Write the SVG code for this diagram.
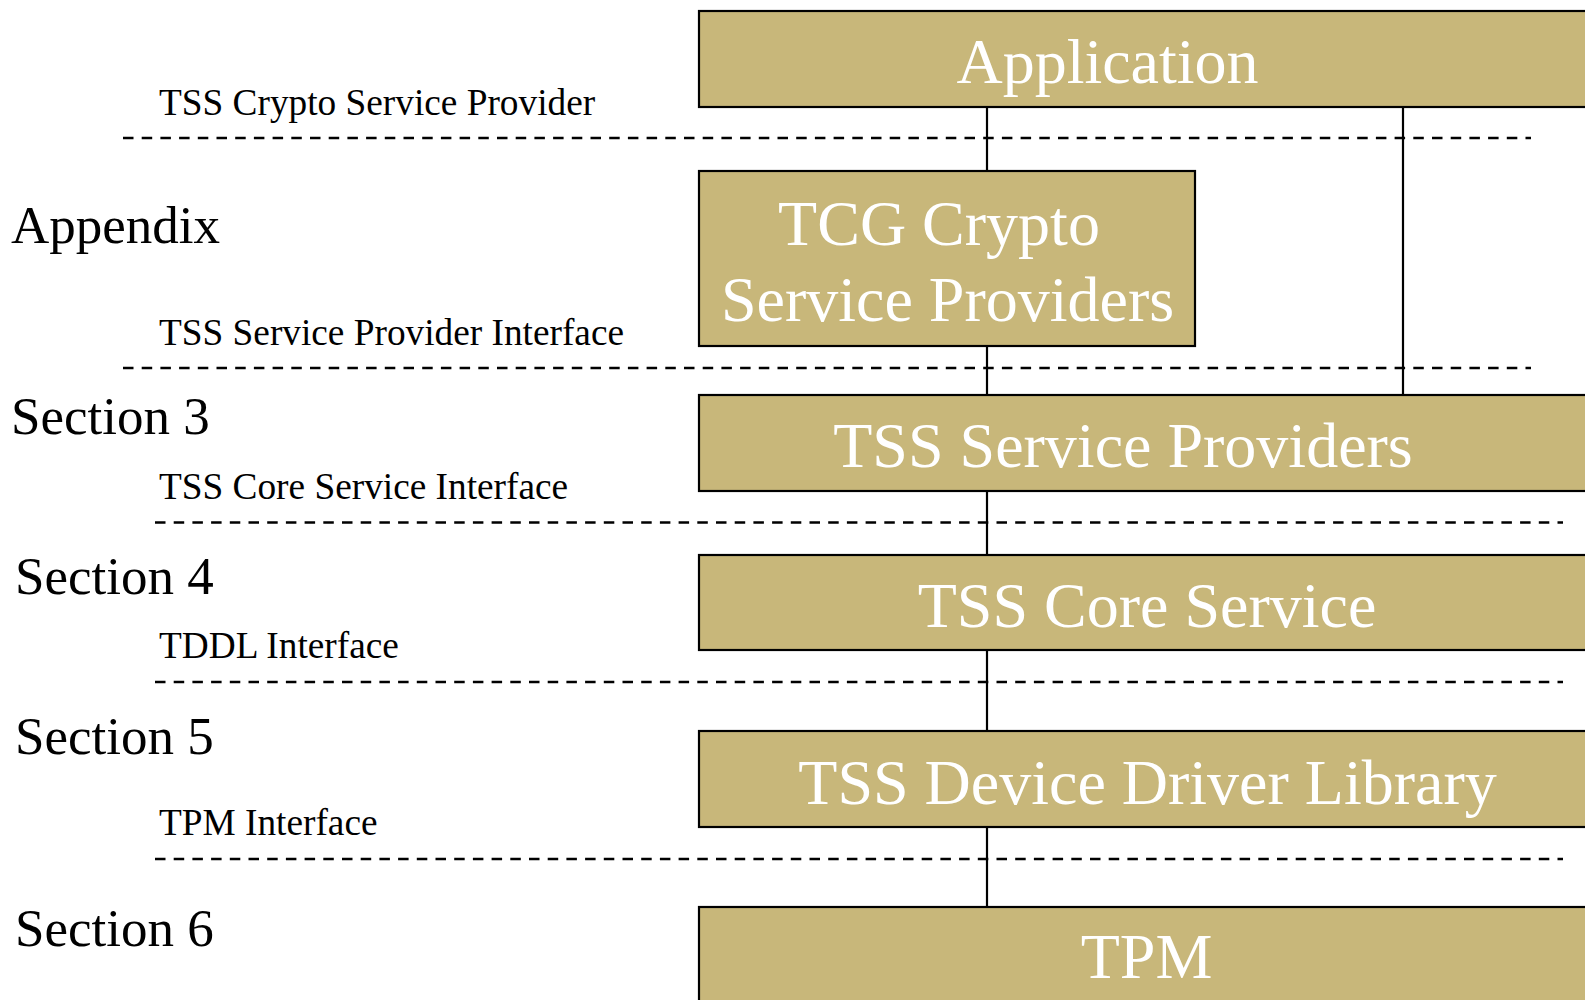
<svg xmlns="http://www.w3.org/2000/svg" width="1585" height="1000" viewBox="0 0 1585 1000">
<style>
.box{fill:#C8B77A;stroke:#000;stroke-width:2.2}
.bt{font-family:"Liberation Serif","Times New Roman",serif;font-size:64px;fill:#fff;text-anchor:middle}
.sec{font-family:"Liberation Serif","Times New Roman",serif;font-size:53px;fill:#000}
.ifc{font-family:"Liberation Serif","Times New Roman",serif;font-size:37.3px;fill:#000}
.dash{stroke:#000;stroke-width:2.6;stroke-dasharray:10.5 8.2;fill:none}
.conn{stroke:#000;stroke-width:2.2;fill:none}
</style>
<rect width="1585" height="1000" fill="#fff"/>
<g id="layers">
<line class="dash" x1="123" y1="138" x2="1531" y2="138"/>
<line class="dash" x1="123" y1="368" x2="1531" y2="368"/>
<line class="dash" x1="155" y1="522.5" x2="1563" y2="522.5"/>
<line class="dash" x1="155" y1="682" x2="1563" y2="682"/>
<line class="dash" x1="155" y1="859" x2="1563" y2="859"/>
</g>
<g id="labels">
<text class="ifc" x="159" y="115">TSS Crypto Service Provider</text>
<text class="sec" x="11" y="243">Appendix</text>
<text class="ifc" x="159" y="345">TSS Service Provider Interface</text>
<text class="sec" x="11" y="434">Section 3</text>
<text class="ifc" x="159" y="499">TSS Core Service Interface</text>
<text class="sec" x="15" y="594">Section 4</text>
<text class="ifc" x="159" y="658">TDDL Interface</text>
<text class="sec" x="15" y="754">Section 5</text>
<text class="ifc" x="159" y="835">TPM Interface</text>
<text class="sec" x="15" y="946">Section 6</text>
</g>
<g id="connectors">
<line class="conn" x1="987" y1="107" x2="987" y2="171"/>
<line class="conn" x1="1403" y1="107" x2="1403" y2="395"/>
<line class="conn" x1="987" y1="346" x2="987" y2="395"/>
<line class="conn" x1="987" y1="491" x2="987" y2="555"/>
<line class="conn" x1="987" y1="650" x2="987" y2="731"/>
<line class="conn" x1="987" y1="827" x2="987" y2="907"/>
</g>
<g id="application">
<rect class="box" x="699" y="11" width="900" height="96"/>
<text class="bt" x="1107.5" y="83" textLength="302" lengthAdjust="spacing">Application</text>
</g>
<g id="tcg-csp">
<rect class="box" x="699" y="171" width="496" height="175"/>
<text class="bt" x="939" y="245">TCG Crypto</text>
<text class="bt" x="947.5" y="321">Service Providers</text>
</g>
<g id="tss-sp">
<rect class="box" x="699" y="395" width="900" height="96"/>
<text class="bt" x="1123" y="467">TSS Service Providers</text>
</g>
<g id="tss-core">
<rect class="box" x="699" y="555" width="900" height="95"/>
<text class="bt" x="1147" y="627">TSS Core Service</text>
</g>
<g id="tddl">
<rect class="box" x="699" y="731" width="900" height="96"/>
<text class="bt" x="1147.5" y="804">TSS Device Driver Library</text>
</g>
<g id="tpm">
<rect class="box" x="699" y="907" width="900" height="110"/>
<text class="bt" x="1146.5" y="978">TPM</text>
</g>
</svg>
